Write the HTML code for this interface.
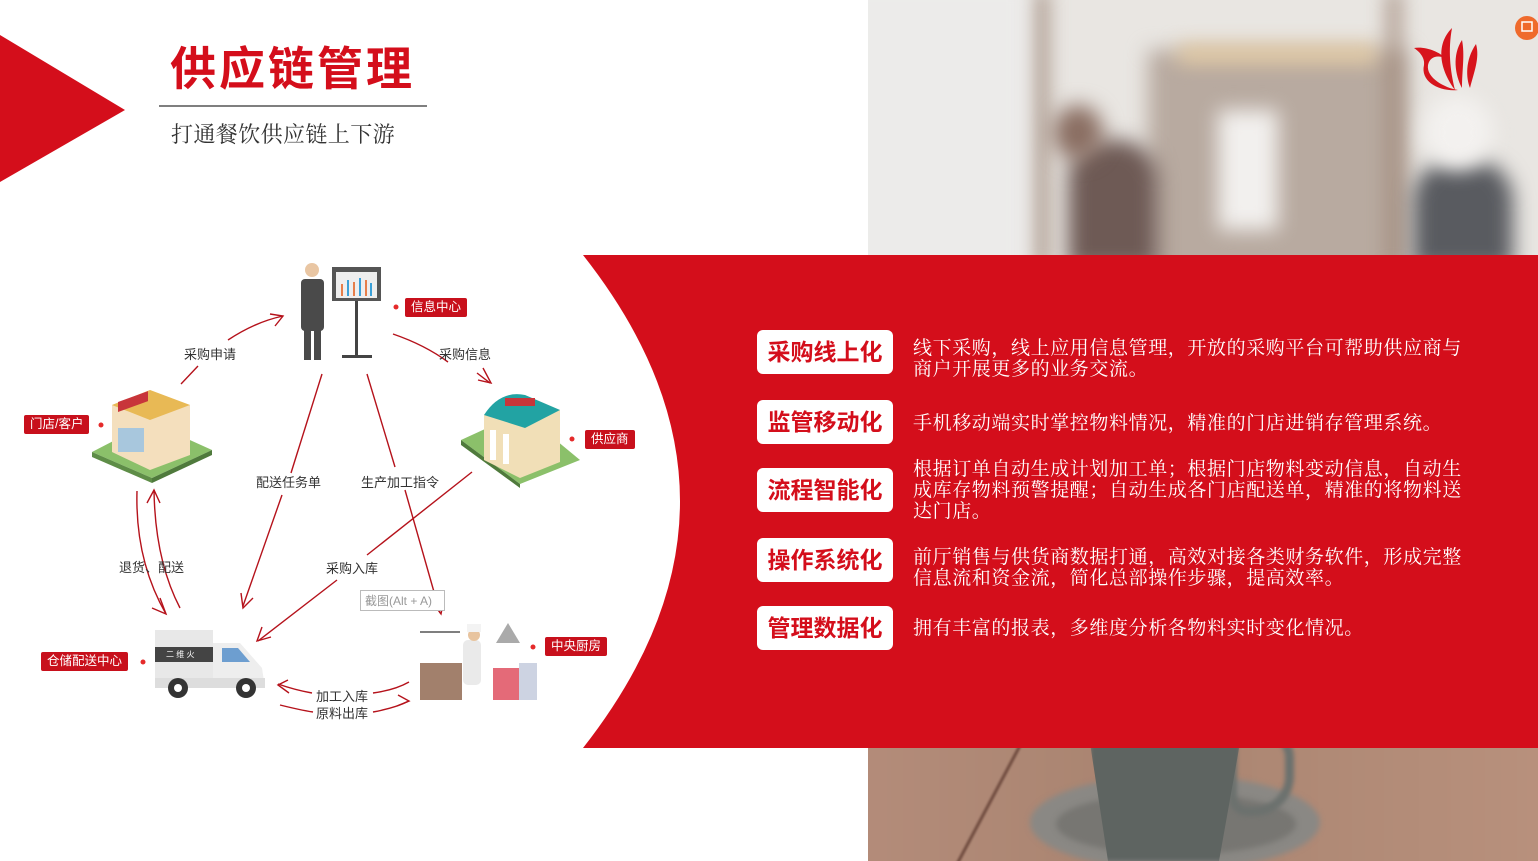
<!DOCTYPE html>
<html><head><meta charset="utf-8"><style>
html,body{margin:0;padding:0;}
body{width:1538px;height:861px;position:relative;overflow:hidden;background:#fff;font-family:"Liberation Sans","Noto Sans CJK SC",sans-serif;}
.abs{position:absolute;}
.clipT{left:868px;top:0;width:670px;height:255px;overflow:hidden;background:#e9e6e2;}
.clipB{left:868px;top:748px;width:670px;height:113px;overflow:hidden;background:#b28c79;}
.b{position:absolute;filter:blur(10px);}
.box{position:absolute;left:757px;width:136px;height:44px;background:#fff;border-radius:6px;color:#d40e1b;font-weight:bold;font-size:23px;line-height:44px;text-align:center;}
.desc{position:absolute;left:913px;width:560px;color:#fff;font-size:19px;letter-spacing:0.6px;line-height:21px;font-family:"Liberation Serif","Noto Serif CJK SC",serif;}
.lbl{position:absolute;font-size:13px;color:#333;white-space:nowrap;}
.tag{position:absolute;background:#c8101c;color:#fff;font-size:12.5px;height:19px;line-height:19px;padding:0 6px;border-radius:2px;white-space:nowrap;}
</style></head><body>
<div class="abs clipT">
 <div class="b" style="left:165px;top:-10px;width:14px;height:280px;background:#a08a7c;"></div>
 <div class="b" style="left:280px;top:50px;width:260px;height:230px;background:#b8aaa0;"></div>
 <div class="b" style="left:310px;top:45px;width:200px;height:18px;background:#e3c9a0;"></div>
 <div class="b" style="left:520px;top:-10px;width:12px;height:280px;background:#9d8576;"></div>
 <div class="b" style="left:350px;top:110px;width:60px;height:120px;background:#f2f0ee;"></div>
 <div class="b" style="left:200px;top:140px;width:90px;height:130px;background:#6e5a55;border-radius:40px 40px 0 0;"></div>
 <div class="b" style="left:185px;top:105px;width:50px;height:55px;background:#8a6e62;border-radius:50%;"></div>
 <div class="b" style="left:545px;top:160px;width:100px;height:110px;background:#595b60;border-radius:40px 40px 0 0;"></div>
 <div class="b" style="left:555px;top:95px;width:70px;height:75px;background:#f3f1ef;border-radius:50%;"></div>
 <div class="b" style="left:-20px;top:-20px;width:180px;height:300px;background:#ecebea;"></div>
</div>
<div class="abs clipB">
 <div class="b" style="left:-20px;top:-20px;width:720px;height:160px;background:linear-gradient(90deg,#b48c7a,#a98470 40%,#b9917d);filter:blur(4px);"></div>
 <div class="b" style="left:120px;top:-20px;width:3px;height:150px;background:#6e4a3e;transform:rotate(28deg);filter:blur(1px);"></div>
 <div class="b" style="left:162px;top:27px;width:290px;height:95px;background:#8a8884;border-radius:50%;filter:blur(3px);"></div>
 <div class="b" style="left:188px;top:45px;width:240px;height:62px;background:#777672;border-radius:50%;filter:blur(3px);"></div>
 <div class="b" style="left:360px;top:-20px;width:48px;height:70px;border:9px solid #6c716e;border-radius:0 30px 40px 20px;background:transparent;filter:blur(2px);"></div>
 <div class="b" style="left:222px;top:-5px;width:150px;height:118px;background:#5e6461;clip-path:polygon(0 0,100% 0,86% 100%,12% 100%);filter:blur(2px);"></div>
</div>
<svg class="abs" style="left:0;top:0" width="1538" height="861">
<polygon points="0,35 125,110 0,182" fill="#d40e1b"/>
<path d="M583,255 L1538,255 L1538,748 L583,748 Q777,501 583,255 Z" fill="#d40e1b"/>
<line x1="159" y1="106" x2="427" y2="106" stroke="#333" stroke-width="1.2"/>
<g fill="#d7141c">
<path d="M1452,28 C1435,45 1440,70 1455,90 C1450,70 1448,50 1452,28Z"/>
<path d="M1462,40 C1452,55 1455,75 1462,88 C1462,70 1465,55 1462,40Z"/>
<path d="M1476,44 C1465,60 1466,78 1470,88 C1474,72 1480,58 1476,44Z"/>
<path d="M1414,48 C1425,46 1440,52 1445,58 C1438,55 1430,56 1428,65 C1426,78 1445,88 1458,90 C1440,92 1420,82 1424,65 C1425,58 1420,52 1414,48Z"/>
</g>
<circle cx="1527" cy="28" r="12" fill="#ef6a2c"/>
<rect x="1522" y="22" width="10" height="9" fill="none" stroke="#fff" stroke-width="1.5"/>
<g stroke="#b5121b" stroke-width="1.4" fill="none">
<path d="M228,340 Q255,322 283,316"/><path d="M270,314 L283,316 L275,326"/>
<path d="M198,366 L181,384"/>
<path d="M393,334 Q425,345 448,362"/>
<path d="M477,373 L490,383"/><path d="M483,368 L491,383 L478,380"/>
<path d="M322,374 L291,473"/><path d="M282,495 L243,606"/><path d="M241,593 L243,608 L253,598"/>
<path d="M367,374 L395,467"/><path d="M405,490 L440,613"/><path d="M432,602 L441,614 L444,599"/>
<path d="M472,472 L367,555"/><path d="M337,580 L258,641"/><path d="M262,627 L257,641 L271,637"/>
<path d="M137,491 Q135,560 166,614"/><path d="M160,598 L166,614 L152,608"/>
<path d="M180,608 Q155,560 154,490"/><path d="M147,503 L154,490 L160,503"/>
<path d="M312,693 Q295,690 278,684"/><path d="M288,680 L278,685 L289,693"/>
<path d="M373,693 Q395,690 409,682"/>
<path d="M280,705 Q300,710 313,712"/>
<path d="M373,712 Q395,708 409,701"/><path d="M398,695 L409,701 L397,706"/>
</g>
<circle cx="312" cy="270" r="7" fill="#e9c6a3"/>
<rect x="301" y="279" width="23" height="52" rx="4" fill="#4a4a4a"/>
<rect x="304" y="330" width="7" height="30" fill="#4a4a4a"/><rect x="314" y="330" width="7" height="30" fill="#4a4a4a"/>
<rect x="332" y="267" width="49" height="34" fill="#555"/><rect x="336" y="272" width="41" height="26" fill="#eee"/>
<g stroke-width="2"><line x1="342" y1="284" x2="342" y2="296" stroke="#e67e4a"/><line x1="348" y1="280" x2="348" y2="296" stroke="#3aa0d8"/><line x1="354" y1="282" x2="354" y2="296" stroke="#e67e4a"/><line x1="360" y1="278" x2="360" y2="296" stroke="#3aa0d8"/><line x1="366" y1="280" x2="366" y2="296" stroke="#e67e4a"/><line x1="371" y1="283" x2="371" y2="296" stroke="#3aa0d8"/></g>
<rect x="355" y="301" width="3" height="55" fill="#444"/><rect x="342" y="355" width="30" height="3" fill="#444"/>
<polygon points="92,452 150,422 212,450 152,478" fill="#8bc06a"/>
<polygon points="92,452 152,478 152,483 92,457" fill="#5e8d47"/><polygon points="152,478 212,450 212,455 152,483" fill="#4f7a3c"/>
<polygon points="112,405 150,390 190,405 190,455 150,470 112,452" fill="#f4dfbd"/>
<polygon points="112,405 150,390 190,405 150,420" fill="#e8b955"/>
<rect x="118" y="400" width="30" height="10" fill="#c8353a" transform="skewY(-20) translate(0,45)"/>
<rect x="118" y="428" width="26" height="24" fill="#a8c7dd"/>
<polygon points="461,440 522,412 580,460 520,484" fill="#8bc06a"/>
<polygon points="461,440 520,484 520,488 461,445" fill="#4f7a3c"/>
<polygon points="484,415 525,395 560,410 560,462 520,478 484,460" fill="#f1dfb7"/>
<path d="M484,415 Q500,390 525,395 L560,410 L525,428 Z" fill="#22a3a3"/>
<rect x="490" y="430" width="6" height="30" fill="#fff"/><rect x="503" y="434" width="6" height="30" fill="#fff"/>
<rect x="505" y="398" width="30" height="8" fill="#c8353a"/>
<rect x="155" y="630" width="58" height="55" fill="#e8e8e8"/><rect x="155" y="647" width="58" height="15" fill="#444"/>
<path d="M213,643 L240,643 L262,668 L265,688 L213,688Z" fill="#eee"/><path d="M222,648 L238,648 L250,662 L222,662Z" fill="#6d9ed0"/>
<rect x="155" y="678" width="110" height="10" fill="#ddd"/>
<circle cx="178" cy="688" r="10" fill="#333"/><circle cx="178" cy="688" r="4" fill="#fff"/>
<circle cx="246" cy="688" r="10" fill="#333"/><circle cx="246" cy="688" r="4" fill="#fff"/>
<text x="166" y="657" font-size="8" fill="#fff">二 维 火</text>
<rect x="420" y="663" width="42" height="37" fill="#a2806c"/>
<rect x="493" y="668" width="26" height="32" fill="#e46a78"/><rect x="519" y="663" width="18" height="37" fill="#cdd3e2"/>
<rect x="463" y="640" width="18" height="45" rx="5" fill="#eaeaea"/><circle cx="474" cy="635" r="6" fill="#e8c49f"/><rect x="467" y="624" width="14" height="8" fill="#f3f3f3"/>
<polygon points="496,643 508,623 520,643" fill="#aaa"/>
<line x1="420" y1="632" x2="460" y2="632" stroke="#555" stroke-width="1.5"/>
<g fill="#e52a2a"><circle cx="396" cy="307" r="2.5"/><circle cx="101" cy="425" r="2.5"/><circle cx="572" cy="439" r="2.5"/><circle cx="143" cy="662" r="2.5"/><circle cx="533" cy="647" r="2.5"/></g>
<rect x="360.5" y="590.5" width="84" height="20" fill="#fff" stroke="#bbb"/>
<text x="365" y="605" font-size="12" fill="#999" font-family="Liberation Sans,Noto Sans CJK SC,sans-serif">截图(Alt + A)</text>
</svg>
<div class="abs" style="left:170px;top:40px;font-size:46px;font-weight:bold;color:#d40e1b;letter-spacing:3px;line-height:58px;">供应链管理</div>
<div class="abs" style="left:171px;top:121px;font-size:22px;letter-spacing:0.4px;color:#333;line-height:28px;font-family:'Liberation Serif','Noto Serif CJK SC',serif;">打通餐饮供应链上下游</div>

<div class="tag" style="left:405px;top:298px;">信息中心</div>
<div class="tag" style="left:24px;top:415px;">门店/客户</div>
<div class="tag" style="left:585px;top:430px;">供应商</div>
<div class="tag" style="left:41px;top:652px;">仓储配送中心</div>
<div class="tag" style="left:545px;top:637px;">中央厨房</div>

<div class="lbl" style="left:184px;top:344px;">采购申请</div>
<div class="lbl" style="left:439px;top:344px;">采购信息</div>
<div class="lbl" style="left:256px;top:472px;">配送任务单</div>
<div class="lbl" style="left:361px;top:472px;">生产加工指令</div>
<div class="lbl" style="left:119px;top:557px;">退货、配送</div>
<div class="lbl" style="left:326px;top:558px;">采购入库</div>
<div class="lbl" style="left:316px;top:686px;">加工入库</div>
<div class="lbl" style="left:316px;top:703px;">原料出库</div>

<div class="box" style="top:330px;">采购线上化</div>
<div class="box" style="top:400px;">监管移动化</div>
<div class="box" style="top:468px;">流程智能化</div>
<div class="box" style="top:538px;">操作系统化</div>
<div class="box" style="top:606px;">管理数据化</div>
<div class="desc" style="top:338px;">线下采购，线上应用信息管理，开放的采购平台可帮助供应商与商户开展更多的业务交流。</div>
<div class="desc" style="top:413px;">手机移动端实时掌控物料情况，精准的门店进销存管理系统。</div>
<div class="desc" style="top:459px;">根据订单自动生成计划加工单；根据门店物料变动信息，自动生成库存物料预警提醒；自动生成各门店配送单，精准的将物料送达门店。</div>
<div class="desc" style="top:547px;">前厅销售与供货商数据打通，高效对接各类财务软件，形成完整信息流和资金流，简化总部操作步骤，提高效率。</div>
<div class="desc" style="top:618px;">拥有丰富的报表，多维度分析各物料实时变化情况。</div>
</body></html>
